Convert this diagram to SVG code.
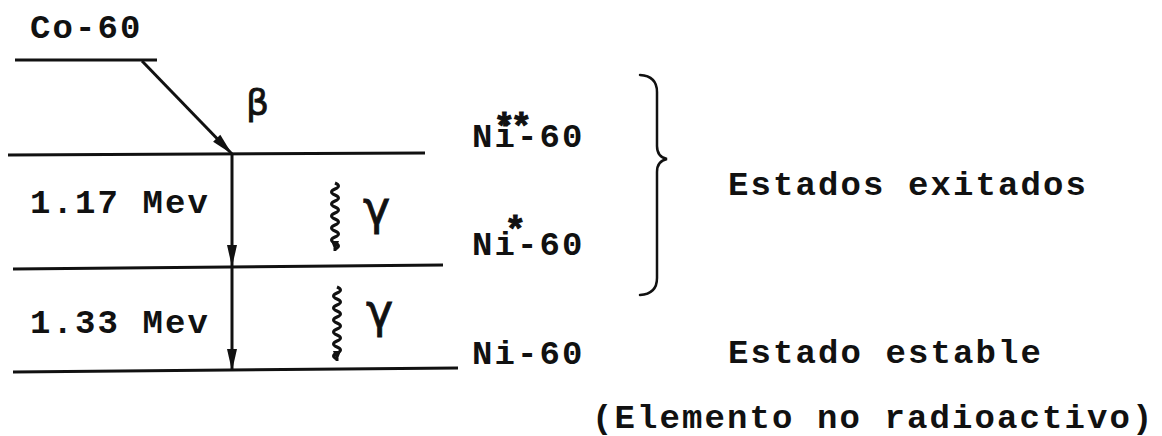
<svg xmlns="http://www.w3.org/2000/svg" width="1162" height="436" viewBox="0 0 1162 436">
  <style>
    .lbl { font-family: "Liberation Mono", "DejaVu Sans Mono", monospace; font-weight: bold; font-size: 34px; letter-spacing: 2.1px; fill: #111; }
    .star { font-family: "Liberation Mono", "DejaVu Sans Mono", monospace; font-weight: bold; font-size: 36px; fill: #111; stroke: #111; stroke-width: 1; }
    .greek { font-family: "DejaVu Sans", "Noto Sans", sans-serif; fill: #111; stroke: #111; stroke-width: 0.8; }
    .level { stroke: #111; stroke-width: 3; fill: none; stroke-linecap: butt; }
    .trans { stroke: #111; stroke-width: 3; fill: none; }
    .wave { stroke: #111; stroke-width: 3; fill: none; }
    .brace { stroke: #111; stroke-width: 2.5; fill: none; stroke-linecap: round; }
  </style>
  <defs>
    <marker id="head" viewBox="0 0 22 12" refX="22" refY="6" markerWidth="22" markerHeight="12" markerUnits="userSpaceOnUse" orient="auto">
      <path d="M0,1 L22,6 L0,11 z" fill="#111"/>
    </marker>
    <marker id="headSmall" viewBox="0 0 10 8" refX="10" refY="4" markerWidth="10" markerHeight="8" markerUnits="userSpaceOnUse" orient="auto">
      <path d="M0,0 L10,4 L0,8 z" fill="#111"/>
    </marker>
  </defs>

  <rect width="1162" height="436" fill="#fff"/>

  <!-- energy levels -->
  <g id="level-co60">
    <line class="level" x1="15" y1="60" x2="157" y2="60"/>
    <text class="lbl" x="30" y="38">Co-60</text>
  </g>
  <g id="level-ni60-2">
    <line class="level" x1="8" y1="155" x2="425" y2="153"/>
    <text class="lbl" x="472" y="147">Ni<tspan class="star" x="493.5" y="139">*</tspan><tspan class="star" x="510.5" y="139">*</tspan><tspan x="517" y="147">-60</tspan></text>
  </g>
  <g id="level-ni60-1">
    <line class="level" x1="13" y1="269" x2="443" y2="265"/>
    <text class="lbl" x="472" y="255">Ni<tspan class="star" x="504.5" y="242">*</tspan><tspan x="517" y="255">-60</tspan></text>
  </g>
  <g id="level-ni60">
    <line class="level" x1="13" y1="372" x2="458" y2="368"/>
    <text class="lbl" x="472" y="364">Ni-60</text>
  </g>

  <!-- energy labels -->
  <g id="energy-labels">
    <text class="lbl" x="30" y="213">1.17 Mev</text>
    <text class="lbl" x="30" y="333">1.33 Mev</text>
  </g>

  <!-- grouping brace and state descriptions -->
  <g id="excited-states">
    <path class="brace" d="M640,75 Q657,76 657,92 L657,146 Q657,157 667,159 Q657,161 657,172 L657,278 Q657,294 640,295"/>
    <text class="lbl" x="728" y="195">Estados exitados</text>
  </g>
  <g id="stable-state">
    <text class="lbl" x="728" y="363">Estado estable</text>
    <text class="lbl" x="592" y="428">(Elemento no radioactivo)</text>
  </g>

  <!-- transitions -->
  <g id="connectors">
    <line class="trans" x1="142" y1="61" x2="232" y2="154" marker-end="url(#head)"/>
    <line class="trans" x1="232" y1="154" x2="232" y2="267" marker-end="url(#head)"/>
    <line class="trans" x1="232" y1="267" x2="232" y2="371" marker-end="url(#head)"/>
    <path class="wave" d="M335,183 q7,3 0,6 t0,6 t0,6 t0,6 t0,6 t0,6 t0,6 t0,6 t0,6 t0,6 t0,6 l0,2" marker-end="url(#headSmall)"/>
    <path class="wave" d="M337,287 q7,3 0,6 t0,6 t0,6 t0,6 t0,6 t0,6 t0,6 t0,6 t0,6 t0,6 t0,6 t0,6 l0,2" marker-end="url(#headSmall)"/>
  </g>

  <!-- radiation symbols -->
  <g id="symbols">
    <text class="greek" x="246" y="115" font-size="36">β</text>
    <text class="greek" x="363" y="224" font-size="46">γ</text>
    <text class="greek" x="366" y="327" font-size="46">γ</text>
  </g>
</svg>
